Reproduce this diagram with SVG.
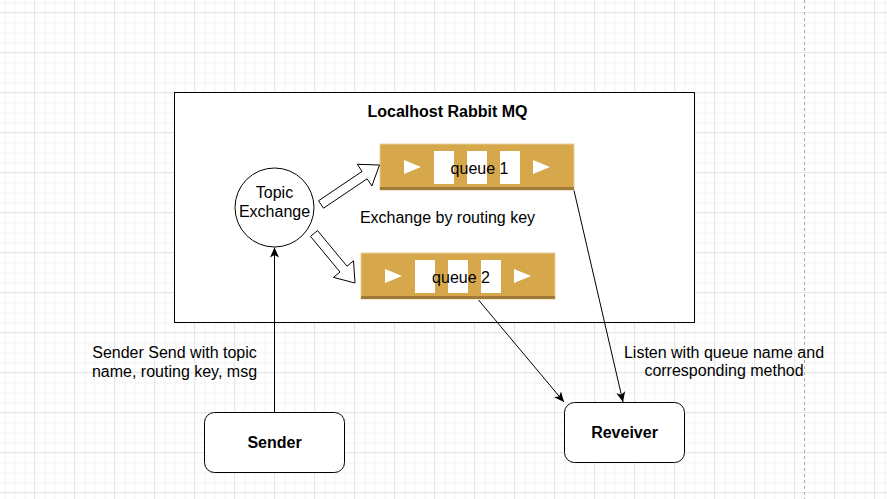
<svg xmlns="http://www.w3.org/2000/svg" width="887" height="499" viewBox="0 0 887 499">
  <defs>
    <pattern id="minor" x="4.5" y="2.5" width="10" height="10" patternUnits="userSpaceOnUse">
      <path d="M0.5,0 V10 M0,0.5 H10" stroke="#f3f3f3" stroke-width="1" fill="none"/>
    </pattern>
    <pattern id="major" x="34" y="12" width="40" height="40" patternUnits="userSpaceOnUse">
      <path d="M0.5,0 V40 M0,0.5 H40" stroke="#e6e6e6" stroke-width="1" fill="none"/>
    </pattern>
    <marker id="arr" viewBox="-11 -6 12 12" refX="0" refY="0" markerWidth="12" markerHeight="12" orient="auto" markerUnits="userSpaceOnUse">
      <path d="M0,0 L-10,-4.5 L-7.5,0 L-10,4.5 Z" fill="#000"/>
    </marker>
    <g id="queue">
      <rect x="0" y="0" width="194" height="46" fill="#d6a84b" stroke="#e8d09a" stroke-width="1"/>
      <rect x="0" y="43" width="194" height="3" fill="#a07a3a"/>
      <rect x="54" y="7" width="20" height="33" fill="#fff"/>
      <rect x="87" y="7" width="20" height="33" fill="#fff"/>
      <rect x="120" y="7" width="20" height="33" fill="#fff"/>
      <polygon points="24,16 41,23 24,30" fill="#fff"/>
      <polygon points="153,16 170,23 153,30" fill="#fff"/>
    </g>
  </defs>
  <style>
    text { font-family: "Liberation Sans", Arial, Helvetica, sans-serif; font-size: 16px; fill: #000; }
    .b { font-weight: bold; }
    .c { text-anchor: middle; }
    .shape { fill: #fff; stroke: #000; stroke-width: 1; }
    .edge { fill: none; stroke: #000; stroke-width: 1; marker-end: url(#arr); }
    .flex { fill: #fff; stroke: #000; stroke-width: 1; stroke-linejoin: miter; }
  </style>

  <rect width="887" height="499" fill="#fff"/>
  <rect width="887" height="499" fill="url(#minor)"/>
  <rect width="887" height="499" fill="url(#major)"/>
  <line x1="804.5" y1="0" x2="804.5" y2="499" stroke="#b0b0b0" stroke-width="1" stroke-dasharray="3 3"/>

  <g id="container">
    <rect class="shape" x="174.5" y="92.5" width="520" height="230"/>
    <text class="b c" x="447.5" y="117">Localhost Rabbit MQ</text>
  </g>

  <g id="exchange">
    <circle class="shape" cx="274.5" cy="207.5" r="39.5"/>
    <text class="c" x="274.5" y="198">Topic</text>
    <text class="c" x="274.5" y="217">Exchange</text>
  </g>

  <g id="queue1">
    <use href="#queue" x="380" y="144"/>
    <text class="c" x="479.5" y="173.5">queue 1</text>
  </g>

  <g id="queue2">
    <use href="#queue" x="361" y="253"/>
    <text class="c" x="461" y="282.5">queue 2</text>
  </g>

  <g id="sender">
    <rect class="shape" x="204.5" y="412.5" width="140" height="60" rx="10" ry="10"/>
    <text class="b c" x="274.5" y="447.5">Sender</text>
  </g>

  <g id="receiver">
    <rect class="shape" x="564.5" y="402.5" width="120" height="60" rx="10" ry="10"/>
    <text class="b c" x="624.5" y="437.5">Reveiver</text>
  </g>

  <g id="labels">
    <text class="c" x="447.5" y="223">Exchange by routing key</text>
    <text class="c" x="174.5" y="358">Sender Send with topic</text>
    <text class="c" x="174.5" y="377">name, routing key, msg</text>
    <text class="c" x="724" y="357.5">Listen with queue name and</text>
    <text class="c" x="724" y="376">corresponding method</text>
  </g>

  <g id="connectors">
    <line class="edge" x1="274.5" y1="412" x2="274.5" y2="247.5"/>
    <line class="edge" x1="574" y1="190.5" x2="623" y2="402"/>
    <line class="edge" x1="478.5" y1="300" x2="564" y2="402"/>
    <polygon class="flex" points="318.5,200.8 362.1,171.4 357.3,164.3 379.5,165 371.9,185.9 367.1,178.8 323.5,208.2"/>
    <polygon class="flex" points="317.5,230.6 347,266.2 353.5,260.8 355,283 333.5,277.4 340,272 310.5,236.4"/>
  </g>
</svg>
